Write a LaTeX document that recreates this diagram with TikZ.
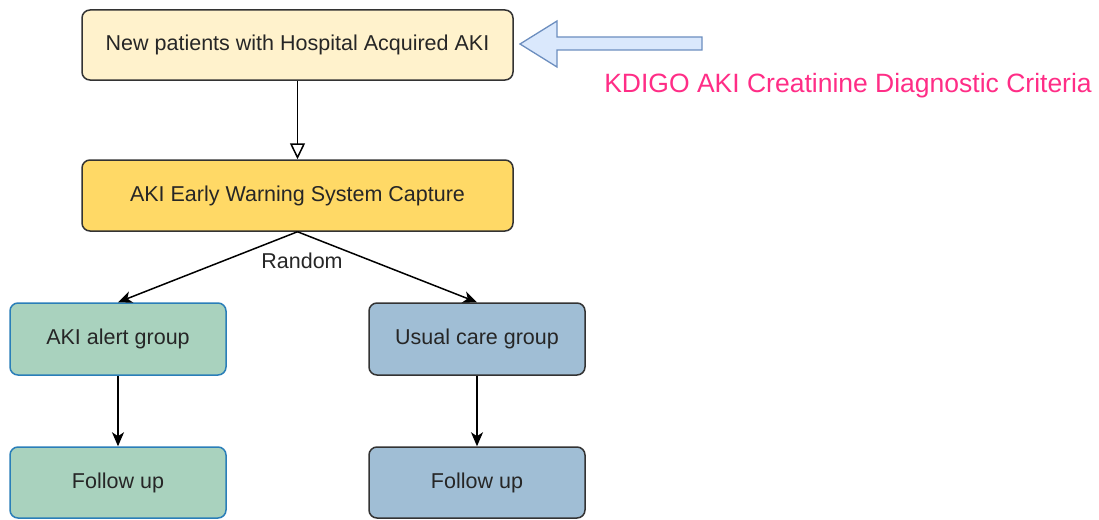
\documentclass[tikz,border=0pt]{standalone}
\usepackage{fontspec}
\setmainfont{Liberation Sans}
\usetikzlibrary{arrows.meta}

\definecolor{topfill}{HTML}{FFF2CC}
\definecolor{ewsfill}{HTML}{FFD966}
\definecolor{alertfill}{HTML}{A9D2BE}
\definecolor{alertline}{HTML}{2A7EB8}
\definecolor{carefill}{HTML}{A0BED5}
\definecolor{boxline}{HTML}{333333}
\definecolor{bluefill}{HTML}{DAE8FC}
\definecolor{blueline}{HTML}{6C8EBF}
\definecolor{kdigo}{HTML}{FF2D86}

\tikzset{
  box/.style={rectangle,rounded corners=8pt,draw=boxline,line width=1.5pt,
    font=\fontsize{21.5}{25}\selectfont,text=black!85},
  conn/.style={line width=1.5pt,-{Stealth[length=14pt,width=12pt,inset=4pt]}}
}

\begin{document}
\begin{tikzpicture}[x=1pt,y=-1pt]
\useasboundingbox (0,0) rectangle (1099,519);
\node[box,fill=topfill,minimum width=431pt,minimum height=70pt] (new) at (297.5,45) {New patients with Hospital Acquired AKI};
\node[box,fill=ewsfill,minimum width=431pt,minimum height=71pt] (ews) at (297.5,195.5) {AKI Early Warning System Capture};
\node[box,fill=alertfill,draw=alertline,minimum width=216pt,minimum height=72pt] (alert) at (118,339) {AKI alert group};
\node[box,fill=carefill,minimum width=216pt,minimum height=72pt] (care) at (477,339) {Usual care group};
\node[box,fill=alertfill,draw=alertline,minimum width=216pt,minimum height=71pt] (fuA) at (118,482.5) {Follow up};
\node[box,fill=carefill,minimum width=216pt,minimum height=71pt] (fuB) at (477,482.5) {Follow up};
\node[font=\fontsize{21.5}{25}\selectfont,text=black!85] (rand) at (302,261) {Random};
\node[font=\fontsize{26.5}{30}\selectfont,text=kdigo] (crit) at (848,86) {KDIGO AKI Creatinine Diagnostic Criteria};

% block arrow pointing at the first box
\draw[fill=bluefill,draw=blueline,line width=1.3pt,line join=miter]
  (520,44) -- (557,21) -- (557,37) -- (702,37) -- (702,50) -- (557,50) -- (557,67) -- cycle;

\draw[line width=1.5pt,-{Triangle[open,length=16pt,width=15pt]}] (new) -- (ews);
\draw[conn] (ews.south) -- (alert.north);
\draw[conn] (ews.south) -- (care.north);
\draw[conn] (alert) -- (fuA);
\draw[conn] (care) -- (fuB);
\end{tikzpicture}
\end{document}
